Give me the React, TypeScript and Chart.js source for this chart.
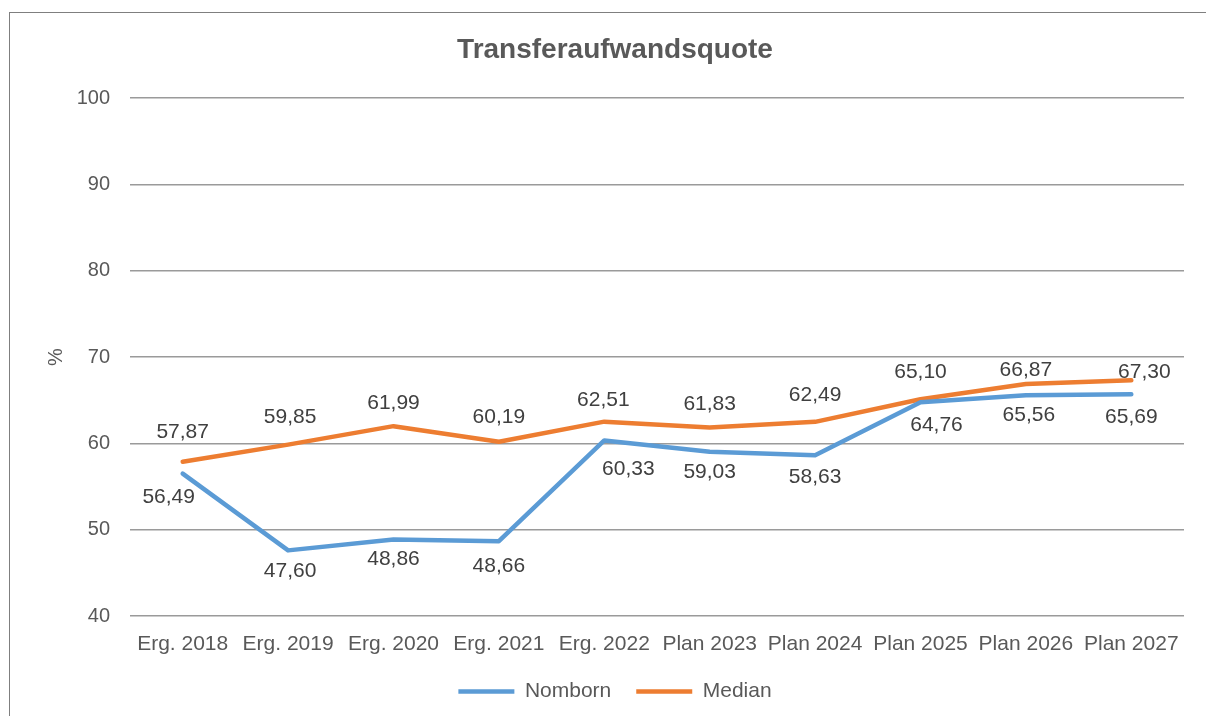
import React, { useEffect, useRef } from "react";
import { Chart, registerables } from "chart.js";

Chart.register(...registerables);

const CATEGORIES = [
  "Erg. 2018", "Erg. 2019", "Erg. 2020", "Erg. 2021", "Erg. 2022",
  "Plan 2023", "Plan 2024", "Plan 2025", "Plan 2026", "Plan 2027",
];
const NOMBORN = [56.49, 47.6, 48.86, 48.66, 60.33, 59.03, 58.63, 64.76, 65.56, 65.69];
const MEDIAN = [57.87, 59.85, 61.99, 60.19, 62.51, 61.83, 62.49, 65.1, 66.87, 67.3];
const Y_MIN = 40;
const Y_MAX = 100;
const Y_STEP = 10;

// label placement relative to each point (dx, dy) as seen in the reference
const NOMBORN_LABEL_SHIFT = [
  [-14, 24], [2, 21], [0, 20], [0, 25], [24, 29], [0, 20], [0, 22], [16, 22.5], [3, 19.5], [0, 22.6],
];
const MEDIAN_LABEL_SHIFT = [
  [0, -30], [2, -27], [0, -23], [0, -24], [-1, -21], [0, -23], [0, -27], [0, -27.5], [0, -14], [13, -8.5],
];

const FONT = "'Liberation Sans', Arial, sans-serif";

const fmt = (v: number) => v.toFixed(2).replace(".", ",");

const dataLabelPlugin = {
  id: "dataLabels",
  afterDatasetsDraw(chart: any) {
    const ctx = chart.ctx;
    ctx.save();
    ctx.font = `21px ${FONT}`;
    ctx.fillStyle = "#404040";
    ctx.textAlign = "center";
    ctx.textBaseline = "middle";
    chart.data.datasets.forEach((ds: any, di: number) => {
      const meta = chart.getDatasetMeta(di);
      const shifts = ds.labelShift as number[][];
      meta.data.forEach((pt: any, i: number) => {
        const [dx, dy] = shifts[i];
        ctx.fillText(fmt(ds.data[i]), pt.x + dx, pt.y + dy);
      });
    });
    ctx.restore();
  },
};

export default function App() {
  const ref = useRef<HTMLCanvasElement | null>(null);

  useEffect(() => {
    document.body.style.margin = "0";
    const canvas = ref.current!;
    const chart = new Chart(canvas, {
      type: "line",
      data: {
        labels: CATEGORIES,
        datasets: [
          {
            label: "Nomborn",
            data: NOMBORN,
            borderColor: "#5b9bd5",
            backgroundColor: "#5b9bd5",
            borderWidth: 4.5,
            borderCapStyle: "round",
            borderJoinStyle: "round",
            pointRadius: 0,
            pointHoverRadius: 0,
            tension: 0,
            labelShift: NOMBORN_LABEL_SHIFT,
          } as any,
          {
            label: "Median",
            data: MEDIAN,
            borderColor: "#ed7d31",
            backgroundColor: "#ed7d31",
            borderWidth: 4.5,
            borderCapStyle: "round",
            borderJoinStyle: "round",
            pointRadius: 0,
            pointHoverRadius: 0,
            tension: 0,
            labelShift: MEDIAN_LABEL_SHIFT,
          } as any,
        ],
      },
      options: {
        responsive: false,
        animation: false,
        maintainAspectRatio: false,
        layout: { padding: { left: 46, right: 22, top: 0, bottom: 4 } },
        plugins: {
          title: {
            display: true,
            text: "Transferaufwandsquote",
            color: "#595959",
            font: { family: FONT, size: 28, weight: "bold", lineHeight: 1.2 },
            padding: { top: 33, bottom: 31.4 },
          },
          legend: {
            display: true,
            position: "bottom",
            labels: {
              usePointStyle: true,
              pointStyle: "line",
              pointStyleWidth: 56,
              color: "#595959",
              font: { family: FONT, size: 21 },
              padding: 25,
            },
          },
          tooltip: { enabled: false },
        },
        scales: {
          x: {
            offset: true,
            grid: { display: false, drawTicks: false },
            border: { display: false },
            ticks: {
              color: "#595959",
              font: { family: FONT, size: 21 },
              padding: 16,
              maxRotation: 0,
              autoSkip: false,
            },
            afterFit: (s: any) => {
              s.height = 40;
            },
          },
          y: {
            min: Y_MIN,
            max: Y_MAX,
            ticks: {
              stepSize: Y_STEP,
              color: "#595959",
              font: { family: FONT, size: 20 },
              padding: 20,
            },
            grid: { color: "#9a9a9a", lineWidth: 1.5, drawTicks: false },
            border: { display: false },
            title: {
              display: true,
              text: "%",
              color: "#595959",
              font: { family: FONT, size: 20 },
              padding: { top: -2, bottom: 0 },
            },
            afterFit: (s: any) => {
              s.width = 84;
            },
          },
        },
      },
      plugins: [dataLabelPlugin],
    });
    return () => chart.destroy();
  }, []);

  return (
    <div style={{ position: "fixed", left: 0, top: 0, width: 1206, height: 716, overflow: "hidden", background: "#fff" }}>
      <div
        style={{
          position: "absolute",
          left: 9,
          top: 12,
          width: 1400,
          height: 900,
          border: "1px solid #7f7f7f",
          boxSizing: "border-box",
        }}
      />
      <canvas ref={ref} width={1206} height={716} style={{ position: "absolute", left: 0, top: 0 }} />
    </div>
  );
}
